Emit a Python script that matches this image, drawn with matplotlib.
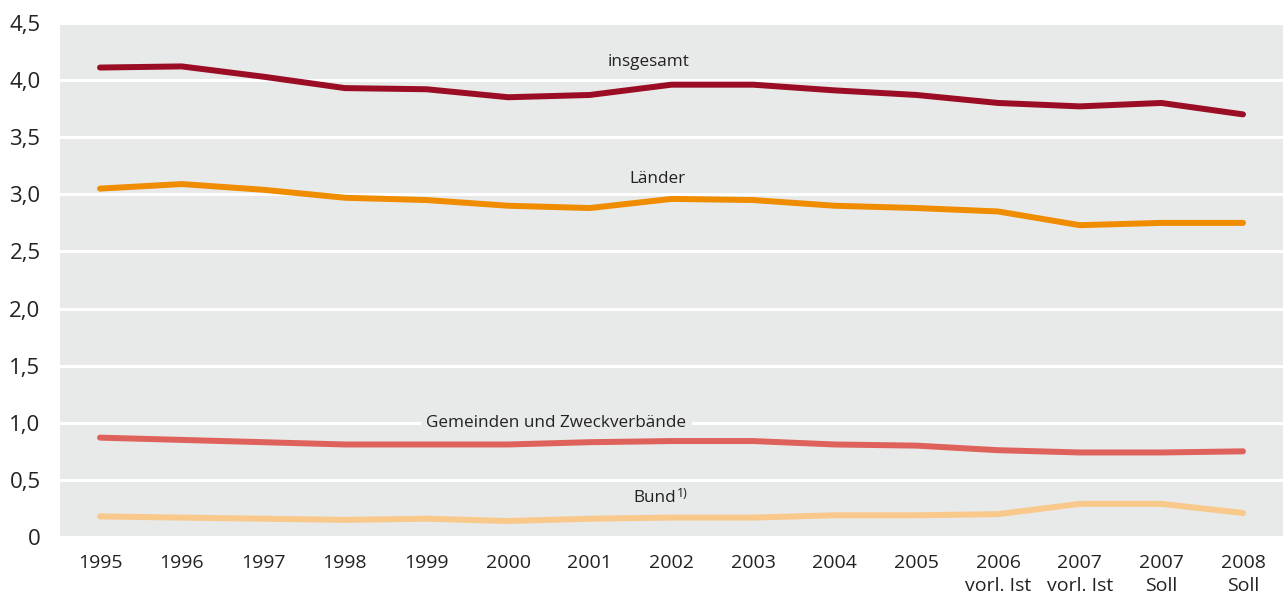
import matplotlib
matplotlib.use("Agg")
import matplotlib.pyplot as plt
import numpy as np

plt.rcParams['font.family'] = ['Open Sans', 'DejaVu Sans']

categories = ["1995", "1996", "1997", "1998", "1999", "2000", "2001", "2002",
              "2003", "2004", "2005", "2006\nvorl. Ist", "2007\nvorl. Ist",
              "2007\nSoll", "2008\nSoll"]
insgesamt = [4.11, 4.12, 4.03, 3.93, 3.92, 3.85, 3.87, 3.96, 3.96, 3.91, 3.87,
             3.80, 3.77, 3.80, 3.70]
laender = [3.05, 3.09, 3.04, 2.97, 2.95, 2.90, 2.88, 2.96, 2.95, 2.90, 2.88,
           2.85, 2.73, 2.75, 2.75]
gemeinden = [0.87, 0.85, 0.83, 0.81, 0.81, 0.81, 0.83, 0.84, 0.84, 0.81, 0.80,
             0.76, 0.74, 0.74, 0.75]
bund = [0.18, 0.17, 0.16, 0.15, 0.16, 0.14, 0.16, 0.17, 0.17, 0.19, 0.19,
        0.20, 0.29, 0.29, 0.21]
yticks = [0, 0.5, 1.0, 1.5, 2.0, 2.5, 3.0, 3.5, 4.0, 4.5]
ytick_labels = ["0", "0,5", "1,0", "1,5", "2,0", "2,5", "3,0", "3,5", "4,0", "4,5"]

bg = "#e8e9e9"
fig = plt.figure(figsize=(12.88, 5.96), dpi=100)
ax = fig.add_axes([60/1288, 1-537/596, (1283-60)/1288, (537-23)/596])
ax.set_facecolor(bg)

x = np.arange(len(categories))
lw = 4.3
ax.plot(x, bund, color="#f9c88b", lw=lw, solid_capstyle='round', zorder=3)
ax.plot(x, gemeinden, color="#de615b", lw=lw, solid_capstyle='round', zorder=3)
ax.plot(x, laender, color="#f08c00", lw=lw, solid_capstyle='round', zorder=3)
ax.plot(x, insgesamt, color="#9b0c25", lw=lw, solid_capstyle='round', zorder=3)

ax.set_xlim(-0.49, 14.49)
ax.set_ylim(0, 4.5)
ax.set_yticks(yticks)
ax.set_yticklabels(ytick_labels, fontsize=16, color="#222222")
ax.set_xticks(x)
ax.set_xticklabels(categories, fontsize=14, color="#222222", linespacing=1.35)
ax.tick_params(axis='x', length=0, pad=12)
ax.tick_params(axis='y', length=0, pad=14)
ax.grid(axis='y', color='white', lw=2.2, zorder=1)
ax.grid(axis='x', visible=False)
for s in ax.spines.values():
    s.set_visible(False)

tcol = "#222222"
fs = 12.3
ax.text(6.72, 4.16, "insgesamt", ha='center', va='center', fontsize=fs, color=tcol, zorder=4)
ax.text(6.83, 3.13, "Länder", ha='center', va='center', fontsize=fs, color=tcol, zorder=4)
ax.text(5.59, 1.0, "Gemeinden und Zweckverbände", ha='center', va='center', fontsize=fs,
        color=tcol, zorder=4,
        bbox=dict(facecolor=bg, edgecolor='none', pad=4))
ax.text(7.05, 0.345, "Bund", ha='right', va='center', fontsize=fs, color=tcol, zorder=4)
ax.text(7.07, 0.385, "1)", ha='left', va='center', fontsize=9, color=tcol, zorder=4)

fig.savefig("out.png", dpi=100, facecolor='white')
